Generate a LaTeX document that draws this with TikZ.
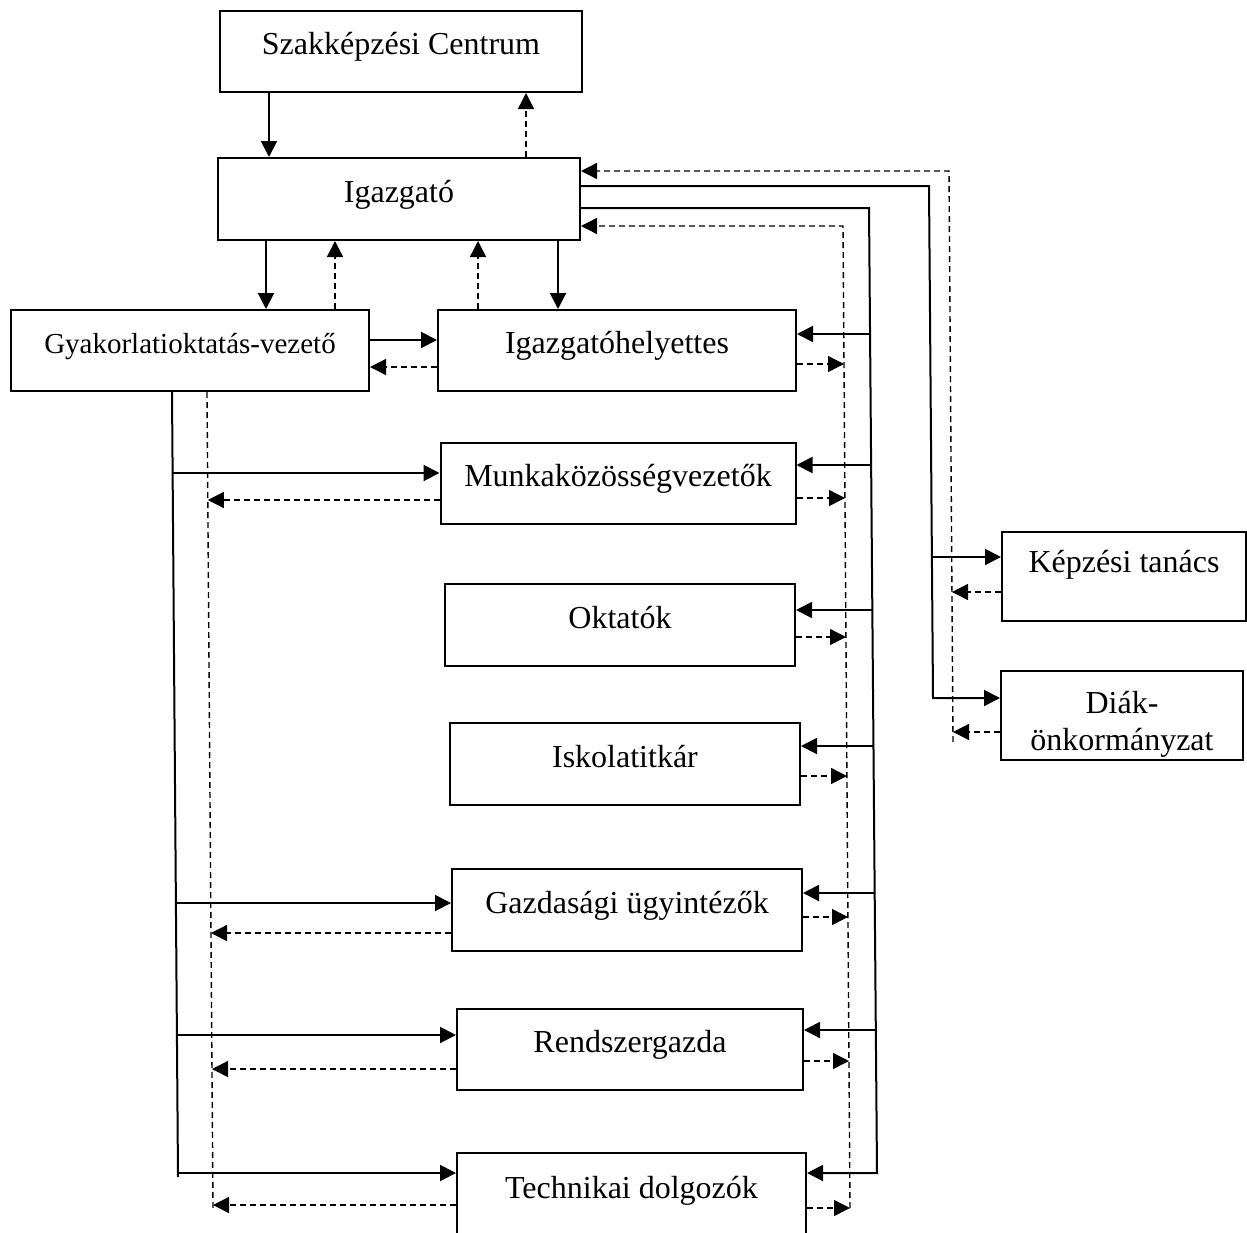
\documentclass[tikz,border=0pt]{standalone}
\usepackage{fontspec}
\setmainfont{Liberation Serif}
\usetikzlibrary{arrows.meta}
\begin{document}
\begin{tikzpicture}[x=1pt,y=-1pt,
  box/.style={draw,line width=2pt,inner sep=0pt,font=\fontsize{32}{37}\selectfont,text height=22.4pt,text depth=16.4pt},
  sline/.style={line width=2pt},
  dline/.style={line width=1.4pt,dash pattern=on 6pt off 4pt},
  tip/.style={-{Triangle[length=16pt,width=16pt]}},
]
\useasboundingbox (0,0) rectangle (1247,1232);

% boxes
\node[box,minimum width=362pt,minimum height=81pt] (szc) at (401,51.5) {Szakképzési Centrum};
\node[box,minimum width=362pt,minimum height=82pt] (igz) at (399,199) {Igazgató};
\node[box,minimum width=358pt,minimum height=81pt,font=\fontsize{29}{34}\selectfont,text height=20.3pt,text depth=15.3pt] (gyk) at (190,350.5) {Gyakorlatioktatás-vezető};
\node[box,minimum width=358pt,minimum height=81pt] (igh) at (617,350.5) {Igazgatóhelyettes};
\node[box,minimum width=355pt,minimum height=81pt] (mkv) at (618,483.5) {Munkaközösségvezetők};
\node[box,minimum width=350pt,minimum height=82pt] (okt) at (620,625) {Oktatók};
\node[box,minimum width=350pt,minimum height=82pt] (isk) at (625,764) {Iskolatitkár};
\node[box,minimum width=350pt,minimum height=82pt] (gzd) at (627,910) {Gazdasági ügyintézők};
\node[box,minimum width=346pt,minimum height=81pt] (rsg) at (630,1049.5) {Rendszergazda};
\node[box,minimum width=349pt,minimum height=84pt] (tch) at (631.5,1195) {Technikai dolgozók};
\node[box,minimum width=244pt,minimum height=89pt,text depth=31.4pt] (kpt) at (1124,576.5) {Képzési tanács};
\node[box,minimum width=242pt,minimum height=89pt,align=center,text height=76pt,text depth=7pt] (dko) at (1122,715.5) {Diák-\\önkormányzat};

% vertical connectors at the top
\coordinate (v1) at (269,0);
\coordinate (v2) at (526,0);
\coordinate (v3) at (266,0);
\coordinate (v4) at (335,0);
\coordinate (v5) at (478,0);
\coordinate (v6) at (558,0);
\draw[sline,tip] (szc.south -| v1) -- (igz.north -| v1);
\draw[dline,tip] (igz.north -| v2) -- (szc.south -| v2);
\draw[sline,tip] (igz.south -| v3) -- (gyk.north -| v3);
\draw[dline,tip] (gyk.north -| v4) -- (igz.south -| v4);
\draw[dline,tip] (igh.north -| v5) -- (igz.south -| v5);
\draw[sline,tip] (igz.south -| v6) -- (igh.north -| v6);

% Gyakorlatioktatás-vezető <-> Igazgatóhelyettes
\coordinate (h1) at (0,340);
\coordinate (h2) at (0,367);
\draw[sline,tip] (gyk.east |- h1) -- (igh.west |- h1);
\draw[dline,tip] (igh.west |- h2) -- (gyk.east |- h2);

% outer dashed bus (Képzési tanács, Diákönkormányzat -> Igazgató)
\coordinate (r1a) at (949,171);
\coordinate (r1b) at (953,742);
\draw[dline,tip] (r1b) -- (r1a) -- (igz.east |- r1a);
\coordinate (k2) at (952,592);
\coordinate (d2) at (953,732);
\draw[dline,tip] (kpt.west |- k2) -- (k2);
\draw[dline,tip] (dko.west |- d2) -- (d2);

% outer solid bus (Igazgató -> Képzési tanács, Diákönkormányzat)
\coordinate (r2a) at (929,186);
\coordinate (r2b) at (933,698);
\coordinate (k1) at (931,557);
\draw[sline,tip] (igz.east |- r2a) -- (r2a) -- (r2b) -- (dko.west |- r2b);
\draw[sline,tip] (k1) -- (kpt.west |- k1);

% inner solid bus (Igazgató -> staff)
\coordinate (r3a) at (869,208);
\coordinate (r3b) at (877,1173);
\draw[sline,tip] (igz.east |- r3a) -- (r3a) -- (r3b) -- (tch.east |- r3b);
\coordinate (s1) at (870,334);
\coordinate (s2) at (871,465);
\coordinate (s3) at (872.3,610);
\coordinate (s4) at (873.5,746);
\coordinate (s5) at (874.7,893);
\coordinate (s6) at (875.8,1030);
\draw[sline,tip] (s1) -- (igh.east |- s1);
\draw[sline,tip] (s2) -- (mkv.east |- s2);
\draw[sline,tip] (s3) -- (okt.east |- s3);
\draw[sline,tip] (s4) -- (isk.east |- s4);
\draw[sline,tip] (s5) -- (gzd.east |- s5);
\draw[sline,tip] (s6) -- (rsg.east |- s6);

% inner dashed bus (staff -> Igazgató)
\coordinate (r4a) at (843,226);
\coordinate (r4b) at (850,1208);
\draw[dline,tip] (r4b) -- (r4a) -- (igz.east |- r4a);
\coordinate (e1) at (844,364);
\coordinate (e2) at (845,498);
\coordinate (e3) at (846,637);
\coordinate (e4) at (847,776);
\coordinate (e5) at (848,917);
\coordinate (e6) at (849,1061);
\draw[dline,tip] (igh.east |- e1) -- (e1);
\draw[dline,tip] (mkv.east |- e2) -- (e2);
\draw[dline,tip] (okt.east |- e3) -- (e3);
\draw[dline,tip] (isk.east |- e4) -- (e4);
\draw[dline,tip] (gzd.east |- e5) -- (e5);
\draw[dline,tip] (rsg.east |- e6) -- (e6);
\draw[dline,tip] (tch.east |- r4b) -- (r4b);

% left solid bus (Gyakorlatioktatás-vezető -> staff)
\coordinate (l1x) at (172,0);
\coordinate (l1b) at (178,1177);
\draw[sline] (gyk.south -| l1x) -- (l1b);
\coordinate (ls1) at (172.6,473);
\coordinate (ls2) at (175.9,903);
\coordinate (ls3) at (176.9,1035);
\coordinate (ls4) at (178,1173);
\draw[sline,tip] (ls1) -- (mkv.west |- ls1);
\draw[sline,tip] (ls2) -- (gzd.west |- ls2);
\draw[sline,tip] (ls3) -- (rsg.west |- ls3);
\draw[sline,tip] (ls4) -- (tch.west |- ls4);

% left dashed bus (staff -> Gyakorlatioktatás-vezető)
\coordinate (l2x) at (207,0);
\coordinate (l2b) at (213,1208);
\draw[dline] (gyk.south -| l2x) -- (l2b);
\coordinate (ld1) at (207.8,500);
\coordinate (ld2) at (211,933);
\coordinate (ld3) at (212,1069);
\coordinate (ld4) at (213,1205);
\draw[dline,tip] (mkv.west |- ld1) -- (ld1);
\draw[dline,tip] (gzd.west |- ld2) -- (ld2);
\draw[dline,tip] (rsg.west |- ld3) -- (ld3);
\draw[dline,tip] (tch.west |- ld4) -- (ld4);
\end{tikzpicture}
\end{document}
